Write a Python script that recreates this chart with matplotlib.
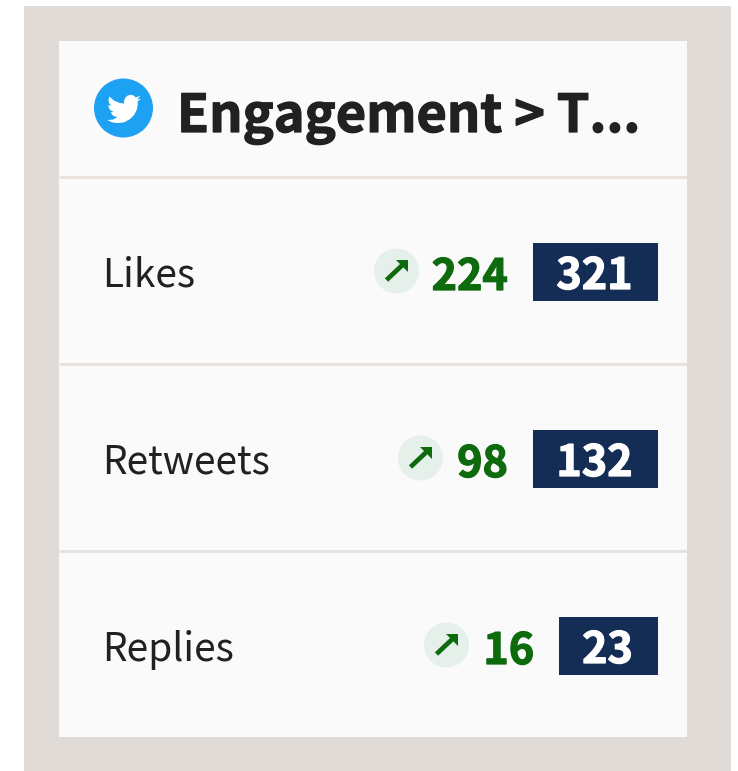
#!/usr/bin/env python3
"""Twitter engagement card: current value and change per metric"""

import matplotlib
matplotlib.use('Agg')  # Non-interactive backend
import matplotlib.pyplot as plt
import matplotlib.patheffects as pe
from matplotlib.patches import Circle, Polygon, Rectangle

TITLE = 'Engagement > T...'
metrics = ['Likes', 'Retweets', 'Replies']
deltas = [224, 98, 16]
totals = [321, 132, 23]

# Twitter bird outline, in a 24 unit icon box
BIRD = [(24, 4.57), (21.13, 5.35), (23.29, 2.62), (20.16, 3.8), (19, 2.7), (17.5, 2.0),
        (16, 2.0), (14.4, 2.5), (13, 3.7), (12.2, 5.2), (11.9, 7), (12.05, 8.1), (9, 7.7),
        (5, 6.1), (1.64, 3.16), (1, 5.6), (1.5, 7.9), (3.16, 9.73), (0.93, 9.12),
        (1.3, 11.2), (2.6, 12.9), (4.88, 14), (2.67, 14.09), (3.5, 15.8), (5, 17),
        (7.27, 17.5), (4.5, 19.2), (1.17, 19.6), (0, 19.54), (3.5, 21.2), (7.56, 21.75),
        (12, 21.2), (16, 19), (19, 16), (20.8, 12.5), (21.5, 9), (21.55, 7.13), (21.54, 6.5)]

plt.rcParams['font.family'] = ['Noto Sans CJK SC', 'DejaVu Sans']

BG = '#E0DBD7'
CARD = '#FAFAFA'
LINE = '#E6E1DC'
NAVY = '#132D55'
GREEN = '#0D6A0D'
PALE = '#E6F0EA'
INK = '#222020'
BLUE = '#1DA1F2'


def heavy(color, width=0.9):
    # the reference numbers are heavier than the bold face
    return [pe.withStroke(linewidth=width, foreground=color)]


fig = plt.figure(figsize=(7.38, 7.71), dpi=100)
ax = fig.add_axes([0, 0, 1, 1])
ax.set_xlim(0, 738)
ax.set_ylim(771, 0)  # pixel coordinates, y down
ax.axis('off')

ax.add_patch(Rectangle((24, 6), 707, 765, color=BG, lw=0))
ax.add_patch(Rectangle((59, 41), 628, 696, color=CARD, lw=0))

# Header
ax.add_patch(Circle((123.5, 108), 29.5, color=BLUE, lw=0))
ax.add_patch(Polygon([(107 + x * 1.43, 92 + y * 1.43) for x, y in BIRD], color='white', lw=0))
ax.text(177, 117.5, TITLE, fontsize=37.6, fontweight='bold', color=INK, va='center', ha='left',
        path_effects=heavy(INK))

# Rows
for i, (name, delta, total) in enumerate(zip(metrics, deltas, totals)):
    top = 177 + 187 * i
    mid = top + 95
    ax.plot([59, 687], [top, top], color=LINE, lw=2, solid_capstyle='butt')
    ax.text(102, mid + 3.5, name, fontsize=28, color=INK, va='center', ha='left')

    box_w = 125 if total >= 100 else 99
    box_left = 658 - box_w
    ax.add_patch(Rectangle((box_left, mid - 29), box_w, 58, color=NAVY, lw=0))
    ax.text(box_left + box_w / 2 - 1, mid + 4, str(total), fontsize=31, fontweight='bold',
            color='white', va='center', ha='center', path_effects=heavy('white'))

    right = box_left - 25
    ax.text(right, mid + 5, str(delta), fontsize=31, fontweight='bold',
            color=GREEN, va='center', ha='right', path_effects=heavy(GREEN))

    # Up-arrow badge
    cx = right - (111.5 if delta >= 100 else 87.5)
    cy = mid - 1
    ax.add_patch(Circle((cx, cy), 22.5, color=PALE, lw=0))
    ax.plot([cx - 10, cx + 7], [cy + 9, cy - 7], color=GREEN, lw=3.4, solid_capstyle='butt')
    ax.add_patch(Polygon([(cx - 1, cy - 11), (cx + 11, cy - 11), (cx + 11, cy + 1)], color=GREEN, lw=0))

fig.savefig('out.png', dpi=100)
